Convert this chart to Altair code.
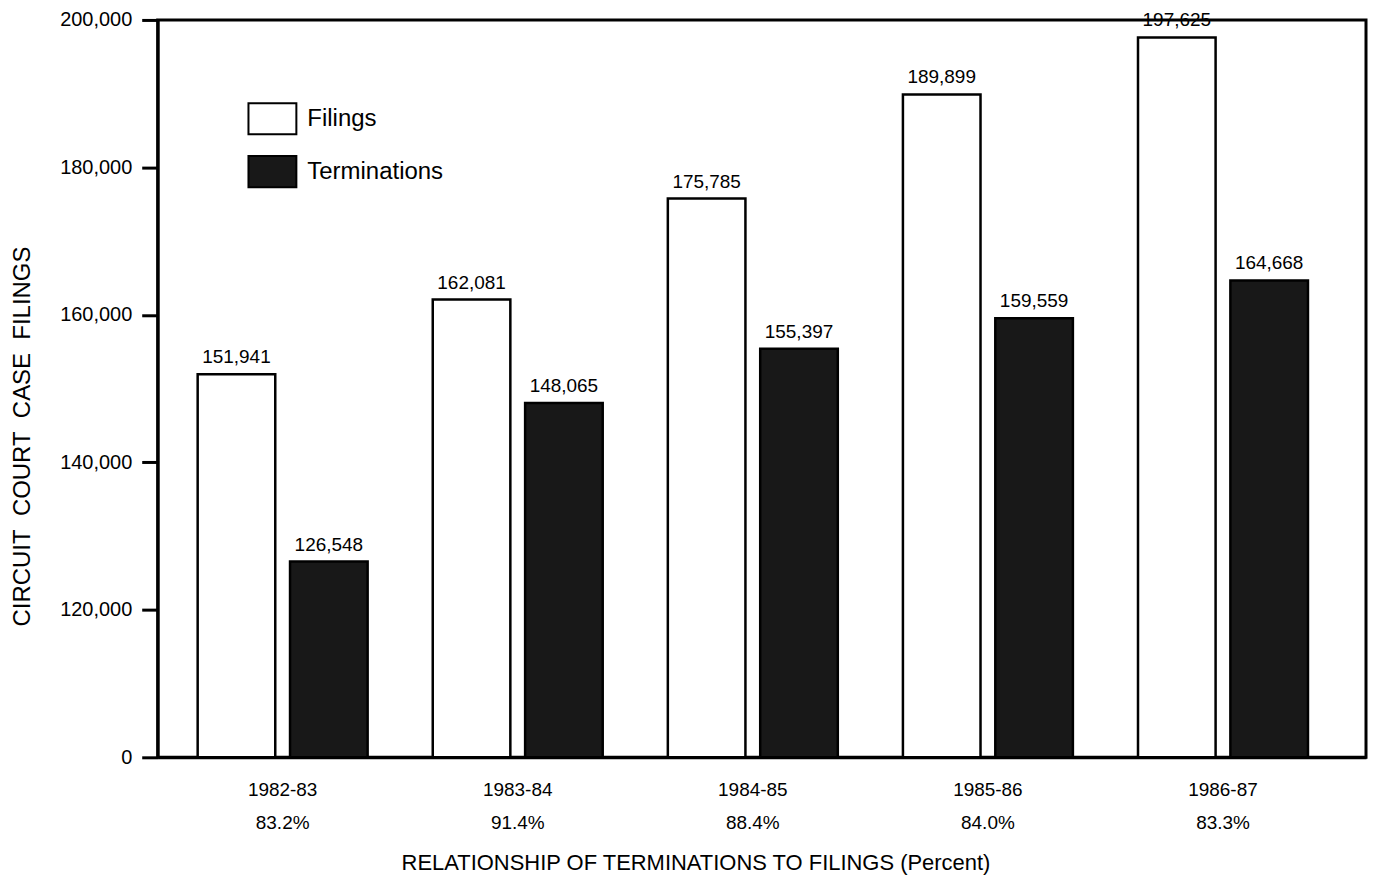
import altair as alt
import pandas as pd

periods = ["1982-83", "1983-84", "1984-85", "1985-86", "1986-87"]
percents = ["83.2%", "91.4%", "88.4%", "84.0%", "83.3%"]
filings = [151941, 162081, 175785, 189899, 197625]
terminations = [126548, 148065, 155397, 159559, 164668]
series_names = ["Filings", "Terminations"]
y_ticks = [100000, 120000, 140000, 160000, 180000, 200000]

rows = []
for p, pc, f, t in zip(periods, percents, filings, terminations):
    lab = p + "|" + pc
    rows.append({"label": lab, "series": "Filings", "value": f})
    rows.append({"label": lab, "series": "Terminations", "value": t})
df = pd.DataFrame(rows)
label_order = [p + "|" + pc for p, pc in zip(periods, percents)]

FONT = "Liberation Sans"
NB = "\u00a0"

x_enc = alt.X(
    "label:N",
    sort=label_order,
    scale=alt.Scale(paddingInner=0.277, paddingOuter=0.2085, align=0.408),
    axis=alt.Axis(
        title="RELATIONSHIP OF TERMINATIONS TO FILINGS (Percent)",
        labelExpr="split(datum.label, '|')",
        labelAngle=0,
        labelFontSize=19,
        labelLineHeight=33.5,
        labelPadding=23,
        labelColor="black",
        ticks=False,
        domainColor="black",
        domainWidth=3,
        titleFontSize=22,
        titleFontWeight="normal",
        titleColor="black",
        titlePadding=20,
        titleX=539,
        titleAlign="center",
    ),
)
xoff = alt.XOffset("series:N", sort=series_names, scale=alt.Scale(paddingInner=0.16))
y_enc = alt.Y(
    "value:Q",
    scale=alt.Scale(domain=[100000, 200000], nice=False, zero=False),
    axis=alt.Axis(
        title=f"CIRCUIT{NB} COURT{NB} CASE{NB} FILINGS",
        values=y_ticks,
        labelExpr="datum.value == 100000 ? '0' : format(datum.value, ',')",
        labelFontSize=20,
        labelColor="black",
        labelPadding=10,
        tickSize=16,
        tickWidth=3,
        tickColor="black",
        domainColor="black",
        domainWidth=3,
        grid=False,
        titleFontSize=24,
        titleFontWeight="normal",
        titleColor="black",
        titlePadding=25,
        titleY=417,
        titleAlign="center",
    ),
)

bars = alt.Chart(df).mark_bar(stroke="black", strokeWidth=2.5).encode(
    x=x_enc,
    xOffset=xoff,
    y=y_enc,
    y2=alt.datum(100000),
    fill=alt.Fill(
        "series:N",
        sort=series_names,
        scale=alt.Scale(domain=series_names, range=["white", "#181818"]),
        legend=alt.Legend(
            title=None,
            orient="none",
            legendX=90,
            legendY=74,
            symbolType="M-1,-0.65H1V0.65H-1Z",
            symbolSize=2304,
            symbolStrokeColor="black",
            symbolStrokeWidth=2,
            labelFontSize=24,
            labelColor="black",
            labelOffset=10,
            rowPadding=8,
        ),
    ),
)

texts = alt.Chart(df).mark_text(baseline="alphabetic", dy=-11, fontSize=19, color="black").encode(
    x=alt.X("label:N", sort=label_order),
    xOffset=alt.XOffset("series:N", sort=series_names),
    y=alt.Y("value:Q"),
    text=alt.Text("value:Q", format=","),
)

chart = (
    alt.layer(bars, texts)
    .properties(
        width=1211,
        height=739,
        padding={"left": 2, "top": 1, "right": 2, "bottom": 5},
        background="white",
    )
    .configure(font=FONT)
    .configure_view(stroke="black", strokeWidth=3)
)

chart.save("out.html", embed_options={"renderer": "svg", "actions": False})
